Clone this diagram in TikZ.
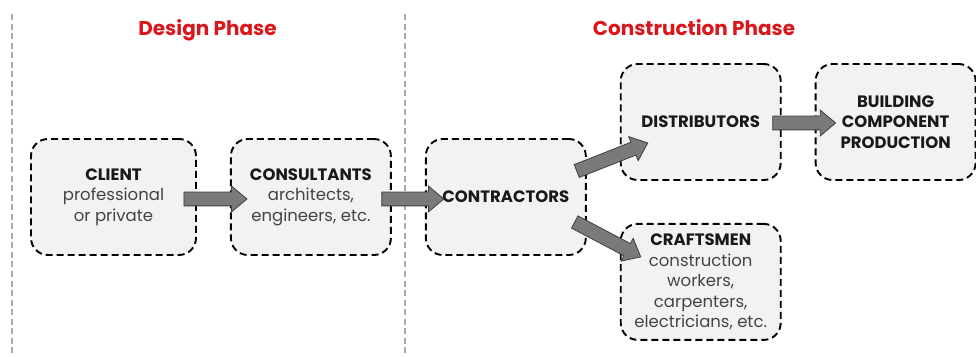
\documentclass[tikz,border=0pt]{standalone}
\usepackage{fontspec}
\setmainfont{Poppins}
\usetikzlibrary{positioning, calc, shapes.arrows}

\definecolor{phasered}{RGB}{218,22,28}
\definecolor{boxfill}{RGB}{242,242,242}
\definecolor{arrowgray}{RGB}{122,122,122}
\definecolor{desctext}{RGB}{68,68,68}
\definecolor{sepgray}{RGB}{170,170,170}
\newcommand{\descline}[1]{{\color{desctext}#1}}

\begin{document}
\begin{tikzpicture}[x=1pt, y=1pt, node distance=33pt]
\tikzset{
    box/.style={draw=black, fill=boxfill, line width=1.9pt, dash pattern=on 7pt off 4pt, rounded corners=17pt,
      minimum width=160pt, minimum height=116pt, align=center, inner sep=2pt,
      font=\fontsize{16.5}{20.5}\selectfont, text=black!90},
    phase/.style={text=phasered, font=\bfseries\fontsize{20}{24}\selectfont},
    separator/.style={sepgray, line width=1.5pt, dash pattern=on 6pt off 3.5pt},
    bigarrow/.style={single arrow, draw=black!75, fill=arrowgray, line width=0.8pt, inner xsep=0pt, inner ysep=6.5pt,
      outer sep=0pt, single arrow head extend=6pt, single arrow tip angle=80, single arrow head indent=0pt},
  }
\useasboundingbox (0,0) rectangle (976,356);

% phase separators
\draw[separator] (12,3) -- (12,342);
\draw[separator] (405,3) -- (405,342);

\node (design) [phase] at (207.5,326) {Design Phase};
\node (construction) [phase] at (694,328) {Construction Phase};

\node (client) [box, minimum width=165pt] at (113.5,159) {\textbf{CLIENT}\\\descline{professional}\\\descline{or private}};
\node (consultants) [box, right=of client] {\textbf{CONSULTANTS}\\\descline{architects,}\\\descline{engineers, etc.}};
\node (contractors) [box, right=of consultants] {\textbf{CONTRACTORS}};
\node (distributors) [box, right=of contractors, yshift=75pt] {\textbf{DISTRIBUTORS}};
\node (building) [box, right=of distributors] {\textbf{BUILDING}\\\textbf{COMPONENT}\\\textbf{PRODUCTION}};
\node (craftsmen) [box, below=42pt of distributors] {\textbf{CRAFTSMEN}\\\descline{construction}\\\descline{workers,}\\\descline{carpenters,}\\\descline{electricians, etc.}};

% arrow ends
\coordinate (client_out) at ($(client.east)+(-13,-2)$);
\coordinate (consultants_in) at ($(consultants.west)+(17,-2)$);
\coordinate (consultants_out) at ($(consultants.east)+(-10,-2)$);
\coordinate (contractors_in) at ($(contractors.west)+(19,-2)$);
\coordinate (contractors_up) at ($(contractors.east)+(-10,26)$);
\coordinate (distributors_in) at ($(distributors.west)+(28,-21)$);
\coordinate (contractors_down) at ($(contractors.east)+(-12,-25)$);
\coordinate (craftsmen_in) at ($(craftsmen.west)+(21,25)$);
\coordinate (distributors_out) at ($(distributors.east)+(-9,-1)$);
\coordinate (building_in) at ($(building.west)+(21,-1)$);

\foreach \from/\to in {client_out/consultants_in, consultants_out/contractors_in, contractors_up/distributors_in,
    contractors_down/craftsmen_in, distributors_out/building_in}
  \path let \p1=($(\to)-(\from)$), \n1={veclen(\x1,\y1)} in
    (\from) -- (\to) node[bigarrow, pos=0, sloped, anchor=tail, minimum height=\n1] {};
\end{tikzpicture}
\end{document}
